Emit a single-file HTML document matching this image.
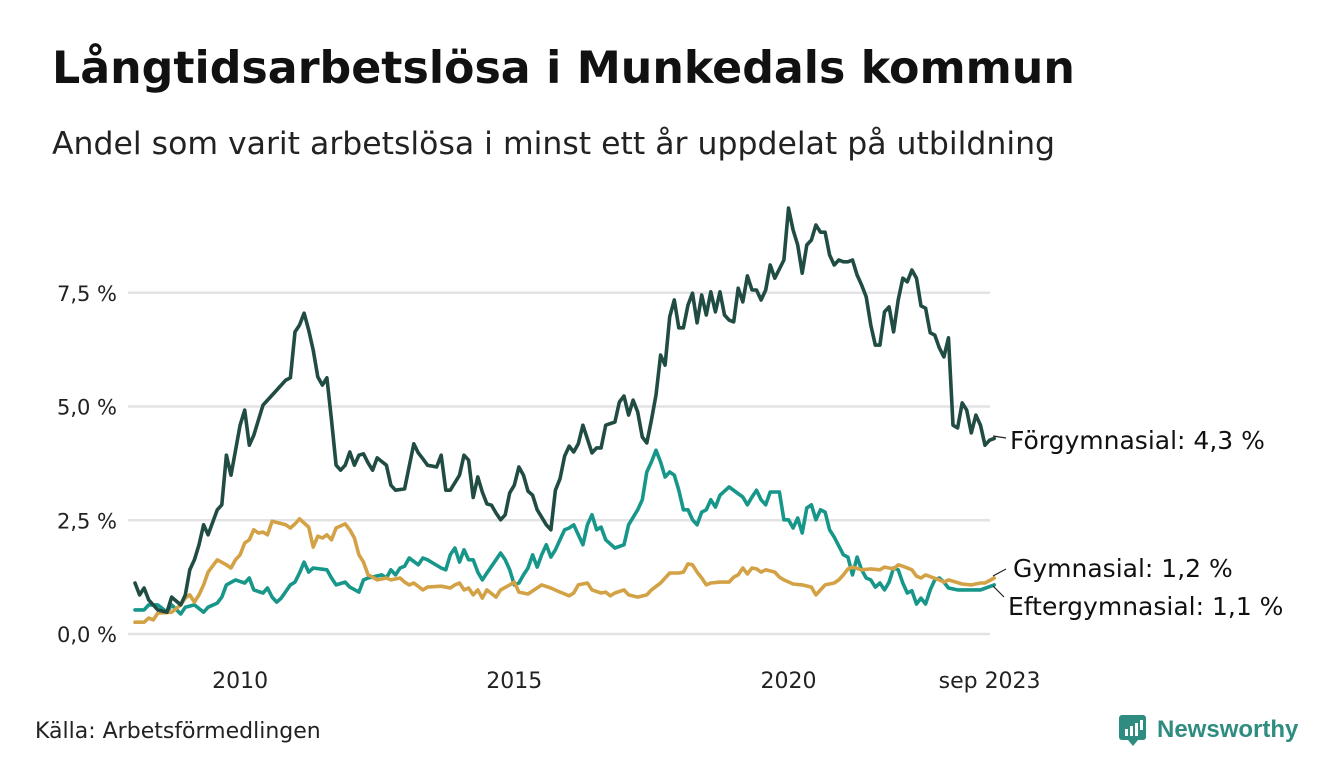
<!DOCTYPE html>
<html><head><meta charset="utf-8">
<style>
html,body{margin:0;padding:0;background:#fff;}
body{width:1340px;height:780px;position:relative;overflow:hidden;font-family:"DejaVu Sans","Liberation Sans",sans-serif;color:#111;}
#title{position:absolute;left:52px;top:43px;font-size:44.3px;font-weight:bold;margin:0;white-space:nowrap;}
#subtitle{position:absolute;left:52px;top:126px;font-size:31.5px;margin:0;color:#222;white-space:nowrap;}
#source{position:absolute;left:35px;top:719px;font-size:22px;color:#222;}
svg{position:absolute;left:0;top:0;}
</style></head>
<body>
<h1 id="title">Långtidsarbetslösa i Munkedals kommun</h1>
<p id="subtitle">Andel som varit arbetslösa i minst ett år uppdelat på utbildning</p>
<div id="source">Källa: Arbetsförmedlingen</div>
<svg id="chart" width="1340" height="780">
<defs><clipPath id="lblclip"><rect x="0" y="0" width="1284" height="780"/></clipPath></defs>
</svg>
<script>
const yTicks=[0,2.5,5,7.5];
const yTickLabels=["0,0 %","2,5 %","5,0 %","7,5 %"];
const xTickMonths=[23,83,143,187];
const xTickLabels=["2010","2015","2020","sep 2023"];

const forgMonths=[0,1,2,3,5,7,8,10,11,12,13,14,15,16,18,19,20,21,23,24,25,26,27,28,31,33,34,35,36,37,38,39,40,41,42,43,44,45,46,47,48,49,50,51,52,53,55,56,57,59,61,62,63,64,66,67,68,69,71,72,73,74,75,76,77,78,79,80,81,82,83,84,85,86,87,88,90,91,92,93,94,95,96,97,98,100,101,102,103,105,106,107,108,109,110,111,112,113,114,115,116,117,118,119,120,121,122,123,124,125,126,127,128,129,130,131,132,133,134,135,136,137,138,139,140,142,143,144,145,146,147,148,149,150,151,152,153,154,155,156,157,158,159,160,161,162,163,164,165,166,167,168,169,170,171,172,173,174,175,176,177,178,179,180,181,182,183,184,185,186,187,188];
const forgValues=[1.12,0.86,1.01,0.75,0.53,0.48,0.81,0.64,0.86,1.41,1.63,1.96,2.40,2.18,2.73,2.84,3.93,3.49,4.59,4.92,4.15,4.37,4.70,5.03,5.36,5.58,5.63,6.64,6.79,7.05,6.68,6.24,5.65,5.47,5.63,4.70,3.71,3.60,3.71,4.0,3.71,3.93,3.96,3.76,3.60,3.87,3.71,3.27,3.16,3.19,4.18,3.98,3.85,3.71,3.67,3.93,3.16,3.16,3.49,3.93,3.82,3.00,3.45,3.12,2.86,2.83,2.66,2.51,2.62,3.10,3.27,3.67,3.49,3.14,3.05,2.73,2.40,2.29,3.16,3.41,3.91,4.13,4.0,4.18,4.59,3.98,4.09,4.09,4.59,4.66,5.10,5.23,4.81,5.14,4.88,4.33,4.20,4.70,5.25,6.13,5.91,6.97,7.34,6.73,6.73,7.23,7.49,6.84,7.45,7.01,7.52,7.08,7.52,7.01,6.90,6.86,7.60,7.30,7.87,7.56,7.56,7.34,7.56,8.11,7.82,8.22,9.36,8.88,8.55,7.93,8.55,8.66,8.99,8.83,8.83,8.33,8.11,8.22,8.18,8.18,8.22,7.89,7.67,7.41,6.79,6.35,6.35,7.08,7.19,6.64,7.34,7.82,7.74,8.0,7.82,7.21,7.16,6.62,6.57,6.29,6.09,6.51,4.59,4.53,5.08,4.92,4.42,4.81,4.59,4.15,4.26,4.3];

const eftMonths=[0,2,3,5,7,8,10,11,13,15,16,18,19,20,22,24,25,26,28,29,30,31,32,34,35,36,37,38,39,42,43,44,46,47,49,50,51,54,55,56,57,58,59,60,62,63,64,67,68,69,70,71,72,73,74,75,76,77,79,80,81,82,83,84,85,86,87,88,89,90,91,92,93,94,95,96,97,98,99,100,101,102,103,105,107,108,110,111,112,113,114,115,116,117,118,119,120,121,122,123,124,125,126,127,128,130,133,134,135,136,137,138,139,141,142,143,144,145,146,147,148,149,150,151,152,153,155,156,157,158,159,160,161,162,163,164,165,166,167,168,169,170,171,172,173,174,175,176,177,178,180,183,185,188];
const eftValues=[0.53,0.53,0.64,0.64,0.48,0.64,0.44,0.59,0.64,0.48,0.59,0.68,0.81,1.08,1.19,1.12,1.23,0.97,0.90,1.01,0.81,0.70,0.79,1.08,1.14,1.34,1.58,1.36,1.45,1.41,1.23,1.08,1.14,1.03,0.92,1.19,1.23,1.30,1.23,1.41,1.30,1.45,1.49,1.67,1.52,1.67,1.63,1.45,1.41,1.74,1.89,1.58,1.85,1.63,1.63,1.36,1.19,1.34,1.63,1.78,1.63,1.41,1.08,1.12,1.30,1.45,1.74,1.47,1.74,1.96,1.69,1.85,2.07,2.29,2.33,2.40,2.18,1.96,2.40,2.62,2.29,2.35,2.07,1.89,1.96,2.40,2.73,2.95,3.56,3.78,4.04,3.78,3.45,3.56,3.49,3.16,2.73,2.73,2.51,2.40,2.68,2.73,2.95,2.79,3.05,3.23,3.01,2.84,3.01,3.16,2.95,2.84,3.12,3.12,2.51,2.51,2.33,2.55,2.22,2.77,2.84,2.51,2.73,2.68,2.29,2.13,1.74,1.69,1.30,1.69,1.41,1.23,1.19,1.03,1.12,0.97,1.14,1.45,1.41,1.12,0.90,0.95,0.66,0.79,0.66,0.97,1.19,1.23,1.14,1.01,0.97,0.97,0.97,1.08];

const gymMonths=[0,2,3,4,5,8,10,11,12,13,14,15,16,18,20,21,22,23,24,25,26,27,28,29,30,33,34,35,36,37,38,39,40,41,42,43,44,46,47,48,49,50,51,52,53,55,56,58,59,60,61,63,64,67,69,70,71,72,73,74,75,76,77,79,80,82,83,84,86,89,91,93,95,96,97,99,100,102,103,104,105,107,108,110,112,113,115,117,119,120,121,122,123,124,125,126,128,130,131,132,133,134,135,136,137,138,140,141,142,144,146,148,149,150,151,153,154,155,156,157,159,161,163,164,166,167,168,170,171,172,173,176,177,178,181,183,185,186,188];
const gymValues=[0.26,0.26,0.35,0.31,0.46,0.48,0.64,0.79,0.86,0.70,0.86,1.08,1.36,1.63,1.52,1.45,1.63,1.74,2.00,2.07,2.29,2.22,2.24,2.18,2.48,2.40,2.33,2.42,2.53,2.44,2.35,1.91,2.15,2.11,2.18,2.07,2.33,2.42,2.29,2.11,1.74,1.58,1.30,1.25,1.19,1.23,1.19,1.23,1.14,1.08,1.12,0.97,1.03,1.05,1.01,1.08,1.12,0.97,1.01,0.86,0.97,0.79,0.97,0.81,0.97,1.08,1.14,0.92,0.88,1.08,1.01,0.92,0.84,0.90,1.08,1.12,0.97,0.90,0.92,0.84,0.90,0.97,0.86,0.81,0.86,0.97,1.12,1.34,1.34,1.36,1.54,1.52,1.36,1.23,1.08,1.12,1.14,1.14,1.25,1.30,1.45,1.32,1.45,1.43,1.36,1.41,1.36,1.25,1.19,1.10,1.08,1.03,0.86,0.97,1.08,1.12,1.19,1.30,1.43,1.47,1.41,1.43,1.41,1.47,1.43,1.52,1.49,1.41,1.27,1.23,1.30,1.19,1.14,1.19,1.10,1.08,1.12,1.12,1.23];

const NS="http://www.w3.org/2000/svg";
const svg=document.getElementById('chart');
const X0=135,XPM=4.57,Y0=634,YPU=45.5;
const xScale=m=>X0+m*XPM;
const yScale=v=>Y0-v*YPU;
const FONT='DejaVu Sans, Liberation Sans, sans-serif';
function mk(tag,attrs,parent){const e=document.createElementNS(NS,tag);for(const k in attrs)e.setAttribute(k,attrs[k]);(parent||svg).appendChild(e);return e;}

yTicks.forEach((t,i)=>{
  const g=mk('line',{x1:128,x2:990,y1:yScale(t),y2:yScale(t),stroke:'#e3e3e6','stroke-width':2.5});
  
  
  const l=mk('text',{x:117,y:yScale(t)+8,'text-anchor':'end','font-size':21,fill:'#222','font-family':FONT});
  l.textContent=yTickLabels[i];
  
  
});
xTickMonths.forEach((m,i)=>{
  const l=mk('text',{x:xScale(m),y:688,'text-anchor':'middle','font-size':22,fill:'#222','font-family':FONT});
  l.textContent=xTickLabels[i];
  
  
});
function line(ms,vs,color,name){
  const d=ms.map((m,i)=>(i?'L':'M')+xScale(m).toFixed(1)+','+yScale(vs[i]).toFixed(1)).join('');
  const p=mk('path',{d:d,fill:'none',stroke:color,'stroke-width':3.6,'stroke-linejoin':'round','stroke-linecap':'round'});
  
  
}
line(eftMonths,eftValues,'#17968a','line-eftergymnasial');
line(gymMonths,gymValues,'#d4a246','line-gymnasial');
line(forgMonths,forgValues,'#204c44','line-forgymnasial');

function leader(x1,y1,x2,y2,name){
  const l=mk('line',{x1:x1,y1:y1,x2:x2,y2:y2,stroke:'#222','stroke-width':1.2});
  
  
}
leader(993,436,1006,438,'leader-forgymnasial');
leader(993,576,1006,569,'leader-gymnasial');
leader(993,586,1004,597,'leader-eftergymnasial');
const lblGroup=mk('g',{'clip-path':'url(#lblclip)'});


function lbl(x,y,t,name){
  const l=mk('text',{x:x,y:y,'font-size':25,fill:'#111','font-family':FONT},lblGroup);
  l.textContent=t;
  
  
}
lbl(1010,449,'Förgymnasial: 4,3 %','label-forgymnasial');
lbl(1013,577,'Gymnasial: 1,2 %','label-gymnasial');
lbl(1008,615,'Eftergymnasial: 1,1 %','label-eftergymnasial');
</script>
<svg width="190" height="50" style="left:1115px;top:710px;">
  <rect x="4" y="5" width="27" height="25" rx="3" fill="#2f8c80"/>
  <polygon points="13,30 23,30 18,36" fill="#2f8c80"/>
  <rect x="10" y="19" width="3" height="7" fill="#fff"/>
  <rect x="15" y="16" width="3" height="10" fill="#fff"/>
  <rect x="20" y="13" width="3" height="13" fill="#fff"/>
  <rect x="25" y="10" width="3" height="10" fill="#fff"/>
  <text x="42" y="27" font-size="24" font-weight="bold" fill="#2f8c80" font-family="Liberation Sans, sans-serif">Newsworthy</text>
</svg>
</body></html>
